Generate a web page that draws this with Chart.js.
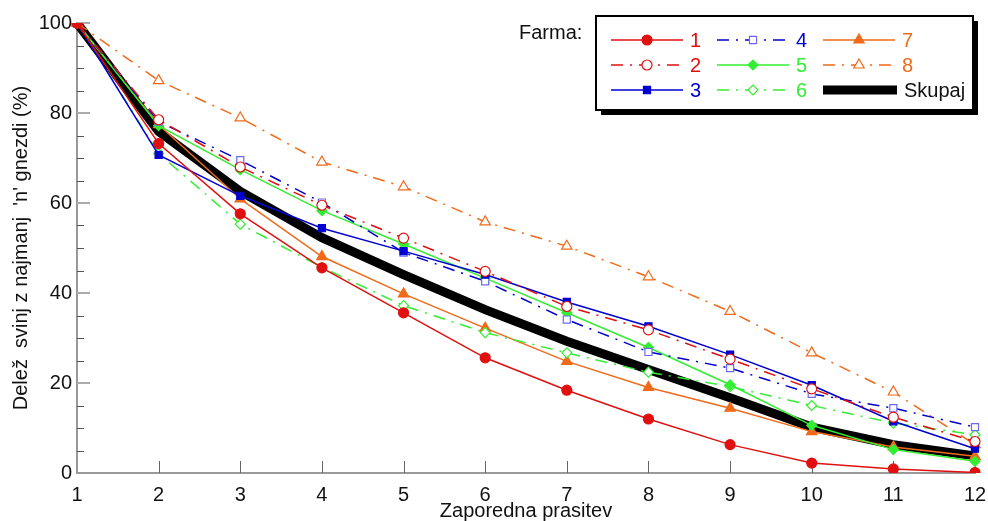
<!DOCTYPE html>
<html>
<head>
<meta charset="utf-8">
<script src="https://cdn.jsdelivr.net/npm/chart.js@4/dist/chart.umd.min.js"></script>
<style>
  html, body { margin: 0; padding: 0; background: #fff; }
  #wrap { width: 988px; height: 521px; position: relative; }
</style>
</head>
<body>
<div id="wrap"><canvas id="prasitveChart" width="988" height="521"></canvas></div>
<script>
// Podatki: delež svinj (%), ki so dosegle vsaj n-to prasitev
const prasitve = ['1', '2', '3', '4', '5', '6', '7', '8', '9', '10', '11', '12'];
const yTicks = [0, 20, 40, 60, 80, 100];

const farma1 = [100, 73.2, 57.6, 45.6, 35.6, 25.6, 18.4, 12.0, 6.3, 2.2, 0.9, 0.1];
const farma2 = [100, 78.5, 68.0, 59.5, 52.2, 44.8, 37.0, 31.8, 25.3, 18.7, 12.4, 7.0];
const farma3 = [100, 70.7, 61.6, 54.4, 49.3, 44.1, 38.0, 32.6, 26.3, 19.5, 11.5, 5.4];
const farma4 = [100, 78.1, 69.5, 60.1, 49.0, 42.6, 34.1, 26.9, 23.3, 17.6, 14.4, 10.2];
const farma5 = [100, 77.2, 67.4, 58.3, 50.9, 43.3, 35.6, 27.9, 19.6, 10.6, 5.2, 2.6];
const farma6 = [100, 71.0, 55.3, 45.7, 37.2, 31.2, 26.7, 22.4, 19.2, 15.0, 11.1, 8.5];
const farma7 = [100, 77.4, 60.9, 48.1, 39.8, 32.2, 24.8, 19.0, 14.4, 9.2, 5.8, 3.7];
const farma8 = [100, 87.2, 78.9, 69.1, 63.6, 55.8, 50.4, 43.6, 35.9, 26.7, 18.0, 6.3];
const skupaj = [100, 75.9, 62.6, 52.3, 44.1, 36.3, 29.3, 23.0, 16.7, 10.2, 6.3, 3.8];

const RDECA = '#e01010';
const MODRA = '#0000d0';
const ZELENA = '#33ee33';
const ORANZNA = '#f06a1a';
const crtaPika = [12, 7, 2, 7];
const FONT = "'Liberation Sans', Arial, Helvetica, sans-serif";

function serija(label, data, color, style, filled, dashed, pointColor) {
    return {
        label: label,
        data: data,
        borderColor: color,
        backgroundColor: color,
        borderWidth: 1.5,
        borderDash: dashed ? crtaPika : [],
        pointStyle: style,
        pointRadius: style === 'triangle' ? 6 : 5,
        pointBorderWidth: 1.2,
        pointBorderColor: pointColor || color,
        pointBackgroundColor: filled ? color : '#fff',
        tension: 0,
        order: 1,
        legendColor: color,
    };
}

const datasets = [
    serija('1', farma1, RDECA, 'circle', true, false),
    serija('2', farma2, RDECA, 'circle', false, true),
    serija('3', farma3, MODRA, 'rect', true, false),
    serija('4', farma4, MODRA, 'rect', false, true, '#6a6af0'),
    serija('5', farma5, ZELENA, 'rectRot', true, false),
    serija('6', farma6, ZELENA, 'rectRot', false, true),
    serija('7', farma7, ORANZNA, 'triangle', true, false),
    serija('8', farma8, ORANZNA, 'triangle', false, true),
    {
        label: 'Skupaj',
        data: skupaj,
        borderColor: '#000',
        backgroundColor: '#000',
        borderWidth: 9,
        pointRadius: 0,
        tension: 0,
        order: 5,
        legendColor: '#000',
    },
];

// Kratke notranje oznake na oseh
function crta(c, x1, y1, x2, y2, barva, debelina) {
    c.strokeStyle = barva;
    c.lineWidth = debelina;
    c.beginPath();
    c.moveTo(x1, y1);
    c.lineTo(x2, y2);
    c.stroke();
}

const oznakePlugin = {
    id: 'oznake',
    beforeDatasetsDraw(chart) {
        const c = chart.ctx;
        const area = chart.chartArea;
        const sx = chart.scales.x;
        const sy = chart.scales.y;
        c.save();
        c.setLineDash([]);
        for (let v = 5; v <= 100; v += 5) {
            const y = Math.round(sy.getPixelForValue(v));
            if (v % 20 === 0) {
                crta(c, area.left, y, area.left + 13, y, '#aaaaaa', 2);
            } else {
                crta(c, area.left, y + 0.5, area.left + 7, y + 0.5, '#555555', 1);
            }
        }
        for (let i = 1; i < prasitve.length; i++) {
            const x = Math.round(sx.getPixelForValue(i)) + 0.5;
            crta(c, x, area.bottom, x, area.bottom - 12, '#666666', 1);
        }
        c.restore();
    },
};

// Legenda v okvirju s senco
const legendaPlugin = {
    id: 'legenda',
    afterDraw(chart) {
        const ctx = chart.ctx;
        const box = { x: 596, y: 16, w: 377, h: 94 };
        ctx.save();
        ctx.fillStyle = '#000';
        ctx.fillRect(box.x + 5, box.y + 5, box.w, box.h);
        ctx.fillStyle = '#fff';
        ctx.fillRect(box.x, box.y, box.w, box.h);
        ctx.lineWidth = 2;
        ctx.strokeStyle = '#000';
        ctx.strokeRect(box.x, box.y, box.w, box.h);

        ctx.font = '20px ' + FONT;
        ctx.textBaseline = 'middle';
        ctx.textAlign = 'left';
        ctx.fillStyle = '#111';
        ctx.fillText('Farma:', 519, 33);

        const stolpci = [611, 717, 823];
        const vrstice = [40, 65, 90];
        chart.data.datasets.forEach((ds, i) => {
            const x0 = stolpci[Math.floor(i / 3)];
            const y = vrstice[i % 3];
            const dolzina = ds.label === 'Skupaj' ? 74 : 72;
            ctx.save();
            ctx.strokeStyle = ds.borderColor;
            ctx.lineWidth = ds.borderWidth;
            ctx.setLineDash(ds.borderDash || []);
            ctx.beginPath();
            ctx.moveTo(x0, y);
            ctx.lineTo(x0 + dolzina, y);
            ctx.stroke();
            ctx.restore();
            if (ds.pointRadius) {
                ctx.save();
                ctx.fillStyle = ds.pointBackgroundColor;
                ctx.strokeStyle = ds.pointBorderColor;
                ctx.lineWidth = ds.pointBorderWidth;
                Chart.helpers.drawPoint(ctx, {
                    pointStyle: ds.pointStyle,
                    radius: ds.pointRadius,
                    rotation: 0,
                    borderWidth: ds.pointBorderWidth,
                }, x0 + dolzina / 2, y);
                ctx.restore();
            }
            ctx.fillStyle = ds.label === 'Skupaj' ? '#111' : ds.legendColor;
            ctx.fillText(ds.label, x0 + dolzina + 7, y + 1);
        });
        ctx.restore();
    },
};

const ctx = document.getElementById('prasitveChart').getContext('2d');
const chart = new Chart(ctx, {
    type: 'line',
    data: { labels: prasitve, datasets: datasets },
    plugins: [oznakePlugin, legendaPlugin],
    options: {
        responsive: false,
        animation: false,
        layout: { padding: { top: 23, right: 0, left: 0, bottom: 0 } },
        plugins: {
            legend: { display: false },
            tooltip: { enabled: false },
        },
        scales: {
            x: {
                type: 'category',
                offset: false,
                grid: { display: true, drawOnChartArea: false, drawTicks: false },
                border: { color: '#999', width: 2 },
                ticks: {
                    color: '#111',
                    font: { size: 20, family: FONT },
                    padding: 10,
                    maxRotation: 0,
                    autoSkip: false,
                },
                title: {
                    display: true,
                    text: 'Zaporedna prasitev',
                    color: '#111',
                    font: { size: 20, family: FONT, lineHeight: 1 },
                    padding: { top: 0, bottom: 0 },
                },
                afterFit(scale) {
                    scale.height = 48;
                    scale.paddingLeft = 0;
                    scale.paddingRight = 13;
                },
            },
            y: {
                min: 0,
                max: 100,
                afterBuildTicks(scale) { scale.ticks = yTicks.map(v => ({ value: v })); },
                grid: { display: true, drawOnChartArea: false, drawTicks: false },
                border: { color: '#999', width: 2 },
                ticks: {
                    color: '#111',
                    font: { size: 20, family: FONT },
                    padding: 5,
                },
                title: {
                    display: true,
                    text: "Delež  svinj z najmanj  'n' gnezdi (%)",
                    color: '#111',
                    font: { size: 20, family: FONT },
                    padding: { top: 9, bottom: 0 },
                },
                afterFit(scale) { scale.width = 77; },
            },
        },
    },
});
</script>
</body>
</html>
